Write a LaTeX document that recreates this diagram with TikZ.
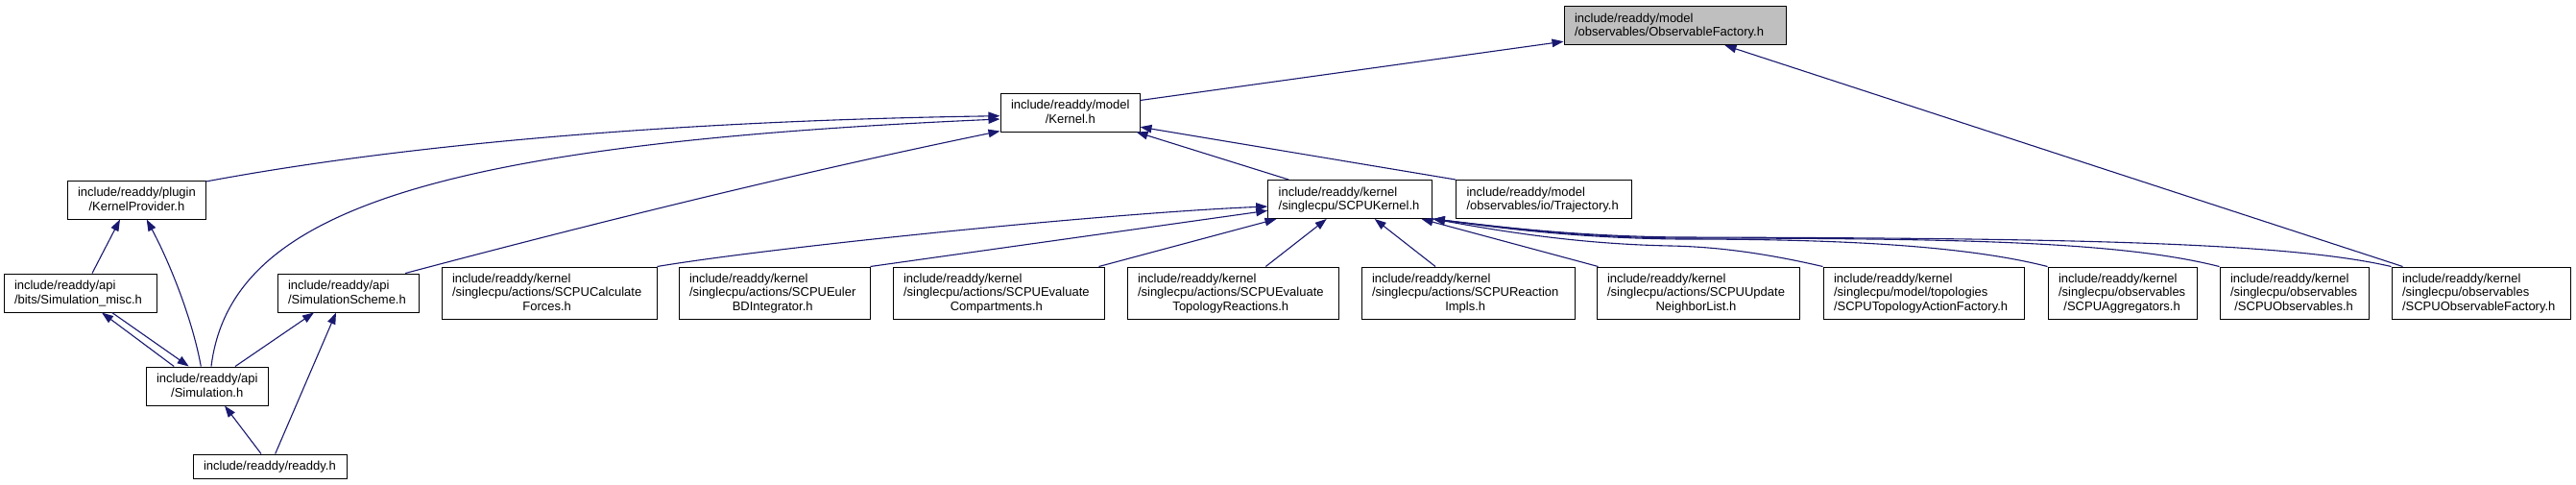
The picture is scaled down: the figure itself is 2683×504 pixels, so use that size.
\documentclass[tikz,border=0pt]{standalone}
\usepackage{fontspec}
\setmainfont{Liberation Sans}
\usetikzlibrary{arrows.meta,calc}
\definecolor{edgeblue}{HTML}{191970}
\definecolor{focusgray}{HTML}{BFBFBF}
\newcommand\nlab[2]{\begin{tabular}{@{}l@{}}#1\\\multicolumn{1}{@{}c@{}}{#2}\end{tabular}}
\newcommand\olab[1]{\begin{tabular}{@{}l@{}}#1\end{tabular}}
\newcommand\bx[2]{\makebox[\dimexpr#1pt-22pt\relax][l]{\raisebox{-1pt}[\height][\depth]{#2}}}
\begin{document}
\begin{tikzpicture}[x=1pt,y=-1pt,
  filebox/.style={draw=black, fill=white, line width=1pt, inner xsep=11pt, inner ysep=0pt,
    minimum height=40pt, font=\fontsize{13}{14.5}\selectfont},
  tallbox/.style={filebox, minimum height=54pt},
  focusbox/.style={filebox, fill=focusgray},
  dep/.style={draw=edgeblue, line width=1.1pt, -{Triangle[length=12pt,width=8.5pt]}}]
\fill[white] (0,0) rectangle (2683,504);
\useasboundingbox (0,0) rectangle (2683,504);

% nodes
\node[focusbox] (obsfac) at (1744.5,26.7) {\bx{231}{\nlab{include/readdy/model}{/observables/ObservableFactory.h}}};
\node[filebox] (kernel) at (1114.5,117) {\bx{145}{\nlab{include/readdy/model}{/Kernel.h}}};
\node[filebox] (scpukernel) at (1406.2,207.5) {\bx{171}{\nlab{include/readdy/kernel}{/singlecpu/SCPUKernel.h}}};
\node[filebox] (trajectory) at (1608,207.5) {\bx{183}{\nlab{include/readdy/model}{/observables/io/Trajectory.h}}};
\node[filebox] (kprov) at (142,208) {\bx{144}{\nlab{include/readdy/plugin}{/KernelProvider.h}}};
\node[filebox] (simmisc) at (83.5,305) {\bx{159}{\nlab{include/readdy/api}{/bits/Simulation\_misc.h}}};
\node[filebox] (simscheme) at (362.5,305) {\bx{147}{\nlab{include/readdy/api}{/SimulationScheme.h}}};
\node[filebox] (simulation) at (215.5,402) {\bx{127}{\nlab{include/readdy/api}{/Simulation.h}}};
\node[filebox, minimum height=25pt] (readdy) at (281,485.5) {\bx{160}{\olab{include/readdy/readdy.h}}};

\node[tallbox] (calcforces) at (572,305) {\bx{224}{\nlab{include/readdy/kernel\\/singlecpu/actions/SCPUCalculate}{Forces.h}}};
\node[tallbox] (euler) at (806.5,305) {\bx{199}{\nlab{include/readdy/kernel\\/singlecpu/actions/SCPUEuler}{BDIntegrator.h}}};
\node[tallbox] (compart) at (1040,305) {\bx{220}{\nlab{include/readdy/kernel\\/singlecpu/actions/SCPUEvaluate}{Compartments.h}}};
\node[tallbox] (topreact) at (1284,305) {\bx{220}{\nlab{include/readdy/kernel\\/singlecpu/actions/SCPUEvaluate}{TopologyReactions.h}}};
\node[tallbox] (reacimpls) at (1529,305) {\bx{222}{\nlab{include/readdy/kernel\\/singlecpu/actions/SCPUReaction}{Impls.h}}};
\node[tallbox] (neighbor) at (1768.5,305) {\bx{211}{\nlab{include/readdy/kernel\\/singlecpu/actions/SCPUUpdate}{NeighborList.h}}};
\node[tallbox] (topaction) at (2003.5,305) {\bx{209}{\nlab{include/readdy/kernel\\/singlecpu/model/topologies}{/SCPUTopologyActionFactory.h}}};
\node[tallbox] (aggreg) at (2210.5,305) {\bx{155}{\nlab{include/readdy/kernel\\/singlecpu/observables}{/SCPUAggregators.h}}};
\node[tallbox] (observ) at (2389.5,305) {\bx{155}{\nlab{include/readdy/kernel\\/singlecpu/observables}{/SCPUObservables.h}}};
\node[tallbox] (scpuobsfac) at (2584,305) {\bx{186}{\nlab{include/readdy/kernel\\/singlecpu/observables}{/SCPUObservableFactory.h}}};

% connectors
\draw[dep] ($(kernel.north east)+(0,8)$) -- ($(obsfac.south west)+(0,-4)$);
\draw[dep] ($(scpuobsfac.north west)+(12,0)$) -- ($(obsfac.south)+(52,0)$);
\draw[dep] ($(kprov.north east)+(0,1.5)$) .. controls (450,145) and (750,125) .. ($(kernel.west)+(0,3.7)$);
\draw[dep] ($(simulation.north)+(4.5,0)$) .. controls (240,220) and (450,150) .. ($(kernel.west)+(0,7)$);
\draw[dep] ($(simscheme.north east)+(-14.3,0)$) .. controls (620,232) and (830,180) .. ($(kernel.south west)+(0,-1)$);
\draw[dep] ($(scpukernel.north west)+(22,0)$) -- ($(kernel.south east)+(-4,0)$);
\draw[dep] (trajectory.north west) -- ($(kernel.south east)+(0,-5.3)$);

\draw[dep] ($(simmisc.north)+(12.5,0)$) -- ($(kprov.south)+(-17,0)$);
\draw[dep] ($(simulation.north)+(-6.2,0)$) .. controls (200,330) and (175,270) .. ($(kprov.south)+(10.7,0)$);
\draw[dep] ($(simulation.north west)+(29.7,0)$) -- ($(simmisc.south)+(22.5,0)$);
\draw[dep] ($(simmisc.south)+(33.2,0)$) -- ($(simulation.north)+(-18.8,0)$);
\draw[dep] ($(simulation.north)+(29.5,0)$) -- ($(simscheme.south)+(-35.5,0)$);
\draw[dep] ($(readdy.north)+(-9,0)$) -- ($(simulation.south)+(18.5,0)$);
\draw[dep] ($(readdy.north)+(5.7,0)$) -- ($(simscheme.south)+(-12.5,0)$);

\draw[dep] (calcforces.north east) .. controls (800,258) and (1150,222) .. ($(scpukernel.west)+(0,7.5)$);
\draw[dep] (euler.north east) -- ($(scpukernel.west)+(0,11.8)$);
\draw[dep] ($(compart.north east)+(-6,0)$) -- ($(scpukernel.south west)+(9.3,0)$);
\draw[dep] ($(topreact.north)+(34.3,0)$) -- ($(scpukernel.south)+(-24.5,0)$);
\draw[dep] ($(reacimpls.north)+(-34,0)$) -- ($(scpukernel.south)+(25.5,0)$);
\draw[dep] ($(neighbor.north west)+(2,0)$) -- ($(scpukernel.south east)+(-11.7,0)$);
\draw[dep] (topaction.north west) .. controls (1840,264) and (1790,257) .. (1740,256) .. controls (1640,254) and (1560,240) .. ($(scpukernel.south east)+(0.5,0)$);
\draw[dep] (aggreg.north west) .. controls (2040,254) and (1900,249) .. (1750,249) .. controls (1640,248) and (1560,237) .. ($(scpukernel.south east)+(0.5,0)$);
\draw[dep] (observ.north west) .. controls (2210,252) and (2050,248) .. (1750,248) .. controls (1640,247) and (1560,236) .. ($(scpukernel.south east)+(0.5,0)$);
\draw[dep] (scpuobsfac.north west) .. controls (2380,252) and (2150,248) .. (1750,247) .. controls (1640,246) and (1560,236) .. ($(scpukernel.south east)+(0.5,0)$);
\end{tikzpicture}
\end{document}
